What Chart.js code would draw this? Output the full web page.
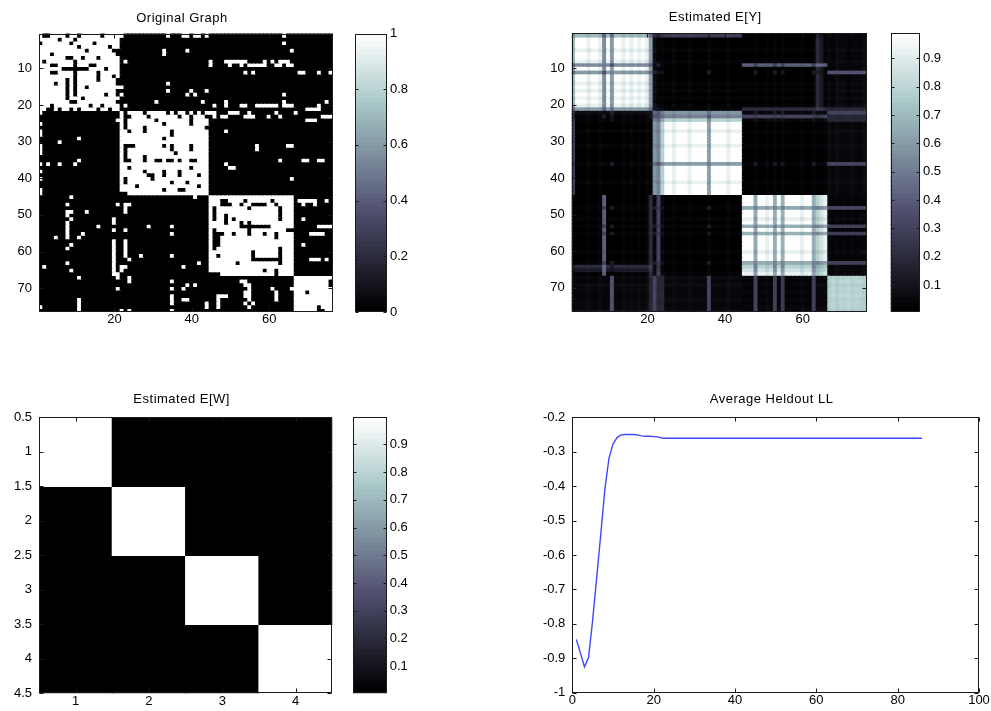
<!DOCTYPE html>
<html>
<head>
<meta charset="utf-8">
<script src="https://cdn.jsdelivr.net/npm/chart.js@4.4.1/dist/chart.umd.min.js"></script>
<style>
  html, body { margin: 0; padding: 0; background: #fff; }
  body { position: relative; width: 991px; height: 711px; overflow: hidden; }
  .panel { position: absolute; }
  .panel canvas { display: block; }
</style>
</head>
<body>
<script>
// ---------------- data ----------------
// node index ticks of the two 76x76 adjacency images
const nodeRowTicks = [10, 20, 30, 40, 50, 60, 70];
const nodeRowLabels = ['10', '20', '30', '40', '50', '60', '70'];
const nodeColTicks = [20, 40, 60];
const nodeColLabels = ['20', '40', '60'];

// observed adjacency matrix, one string per node ('#' = edge).
// groups of columns: nodes 1-21 | 22-44 | 45-66 | 67-76
const adjacencyRows = [
  "#..####.##.#####.#### #...........#...##.##.# ...................#.. ..........",
  "#####.###.########### ....................... ...................... ..........",
  ".#######.#####.###### ....................... ...................#.. ..........",
  "##########.#######.## ....................... ...................... ..........",
  "############.######.. ...........#.....#..... .....................# ..........",
  "###.################. ...........#........... ...................... ..........",
  "#######..##.###.##### ....................... ...................... ..........",
  "#.#######.########### .#..................... #...######....#.#.###. ..........",
  "###..####.###..###### ....................... #....#..#.#####..##.## ..........",
  "######.......####.### ....................... ...................... ..........",
  "###..####.#####.##### ....................... .........#.#.......... .##...#..#",
  "#########.#####.###.# ....................... ...................... ..........",
  "#######.#.#####.####. ....................... ...................... ..........",
  "####.##.#.##########. ............#.......... ...................... ..........",
  "#######.#.##.######## #...................... ...................... ..........",
  "#######.#.##########. ............#.....#...# ...................... ..........",
  "#######.#.#######.##. #................#.#... ...................#.. ..........",
  "#######.###.######### ....................... ...................... ..........",
  "########..##########. .........#...........#. ....#..............#.. ........#.",
  "###.#########.##.#### .#..................... .#..#...##..######.### ......#...",
  "##..#.##.#.####.##.## ....................... ...................... ...####...",
  "#.................... #.####.#####.#.##.#.#.# ##...###..#......#.... #.........",
  "..................... #..####.#######.##.###. .#.##....###...#..#... .......###",
  "....................# #.#######.########.#### ...................... ...###....",
  "#.................... #.#########.######.#### ...................... ..........",
  "..................... #.####.###############. ...................... ..........",
  "#.................... ##.###.######.######### ....#................. ..........",
  "#.................... #############.######### ...................... ..........",
  "..........#.......... ###########.########### ...................... ..........",
  ".....#............... ####################### ...................... ..........",
  "#.................... #...#######.#.####.#### ............#.......## ..........",
  "#.................... #.###########.####.#### ............#......... ..........",
  "#.................... #.############.######## ...................... ..........",
  "..................... #.####.################ ...................... ..........",
  "..........#.......... #..###.##..#..#.##..### ..................#... ..##..##..",
  "#.#..#...#........... ####################### ....#................. ..........",
  "..................... ##.###############.#### .....##............... ..........",
  "#.................... ######.####.###.####### ...................... ..........",
  "..................... #######..##.###.####.## ...................... ..........",
  "#.................... #.######.############## .....................# ..........",
  "..................... #.###########.###.##### ...................... ..........",
  "..................... ####.###############.## ...................... ..........",
  "#.................... ###########.###..###### ...................... ..........",
  "#.................... ..##################### ...................... ..........",
  "........#............ ...................#... ###################### ..........",
  "..................... ....................... ###..####.######.##### .#####..#.",
  ".......#............# .##.................... ###...##.##....##.#### ..#..#....",
  "..................... .#..................... #.########.#######.### ..........",
  ".......##...#........ .#..................... #.################.### ..........",
  ".......#............. ....................... #.##.#############.### ..........",
  "........#..........#. ....................... #.##.#.###########.### ..#.......",
  ".......#...........#. ....................... ####.###.#.########### ..........",
  ".......#.......#..... .......#.....#......... ########........###### ......####",
  ".......#...........#. .#..................... #.########.#########.. ..........",
  ".......#...#......... .............#......... #...##.###.###.##.#### ....####..",
  "....#..#..#.......... ....................... #..##############.#### ..........",
  "...................#. .#..................... #..################### ..........",
  "........#..........#. .#..................... #..################### ..#.......",
  ".......#...........#. .#..................... #.################.### ..........",
  "...................#. .#..................... ###########.######.### ..........",
  "...................#. .#...#.......#......... ##.########.######.### ..........",
  "...................#. ..#.................... ###########........### ....###.#.",
  ".......#...........#. ....................#.. #######.##########.### ..........",
  ".#.................#. ##..............#...... ###################### ..........",
  "........#..........#. #...................... ##############.##.#### ..........",
  "...................## ....................... ...##############.#### ..........",
  "..........#.........# ..#.................... ...................... ##########",
  "..................... ..#..........#......... ........##............ #########.",
  "..................... .................#.#... .........##........... #########.",
  "....................# .............#..#...... ..........#.....#....# ##########",
  "..................... ....................... .........##......#.... ###.######",
  "..................... .............#......... ..###....##......#.... ##########",
  "..........#.......... .............#..##..... ..#.......#......#.... ##########",
  "..........#.......... .............#........# ..#......#.#.......... ##########",
  "#.........#.......... ......................# ..#.......#........... ######.###",
  "..........#.......... #.#..........#......... ...................... ######..##"
];
const adjacencyGroupSizes = [21, 23, 22, 10];

// mixed memberships of the 76 nodes over the 4 communities
const membership = [
  [0.70, 0.28, 0.01, 0.01], [0.995, 0.002, 0.002, 0.001], [0.995, 0.002, 0.002, 0.001], [0.995, 0.002, 0.002, 0.001],
  [0.93, 0.03, 0.02, 0.02], [0.995, 0.002, 0.002, 0.001], [0.995, 0.002, 0.002, 0.001], [0.93, 0.03, 0.02, 0.02],
  [0.56, 0.01, 0.42, 0.01], [0.995, 0.002, 0.002, 0.001], [0.60, 0.01, 0.01, 0.38], [0.995, 0.002, 0.002, 0.001],
  [0.995, 0.002, 0.002, 0.001], [0.93, 0.03, 0.02, 0.02], [0.995, 0.002, 0.002, 0.001], [0.93, 0.03, 0.02, 0.02],
  [0.995, 0.002, 0.002, 0.001], [0.94, 0.02, 0.02, 0.02], [0.995, 0.002, 0.002, 0.001], [0.93, 0.03, 0.02, 0.02],
  [0.62, 0.02, 0.20, 0.16], [0.06, 0.58, 0.04, 0.32], [0.02, 0.52, 0.30, 0.16], [0.02, 0.78, 0.04, 0.16],
  [0.002, 0.995, 0.002, 0.001], [0.002, 0.995, 0.002, 0.001], [0.03, 0.93, 0.02, 0.02], [0.002, 0.995, 0.002, 0.001],
  [0.002, 0.995, 0.002, 0.001], [0.002, 0.995, 0.002, 0.001], [0.03, 0.93, 0.02, 0.02], [0.002, 0.995, 0.002, 0.001],
  [0.002, 0.995, 0.002, 0.001], [0.002, 0.995, 0.002, 0.001], [0.002, 0.995, 0.002, 0.001], [0.03, 0.62, 0.03, 0.32],
  [0.002, 0.995, 0.002, 0.001], [0.002, 0.995, 0.002, 0.001], [0.002, 0.995, 0.002, 0.001], [0.002, 0.995, 0.002, 0.001],
  [0.03, 0.93, 0.02, 0.02], [0.002, 0.995, 0.002, 0.001], [0.002, 0.995, 0.002, 0.001], [0.002, 0.995, 0.002, 0.001],
  [0.002, 0.002, 0.995, 0.001], [0.002, 0.002, 0.995, 0.001], [0.002, 0.002, 0.995, 0.001], [0.02, 0.02, 0.64, 0.32],
  [0.002, 0.002, 0.995, 0.001], [0.002, 0.002, 0.995, 0.001], [0.02, 0.03, 0.93, 0.02], [0.002, 0.002, 0.995, 0.001],
  [0.02, 0.02, 0.66, 0.30], [0.002, 0.002, 0.995, 0.001], [0.02, 0.02, 0.68, 0.28], [0.002, 0.002, 0.995, 0.001],
  [0.002, 0.002, 0.995, 0.001], [0.002, 0.002, 0.995, 0.001], [0.002, 0.002, 0.995, 0.001], [0.02, 0.03, 0.93, 0.02],
  [0.002, 0.002, 0.995, 0.001], [0.002, 0.002, 0.995, 0.001], [0.02, 0.02, 0.66, 0.30], [0.20, 0.01, 0.78, 0.01],
  [0.12, 0.01, 0.86, 0.01], [0.02, 0.03, 0.93, 0.02],
  [0.04, 0.05, 0.04, 0.87], [0.03, 0.04, 0.03, 0.90], [0.05, 0.05, 0.04, 0.86], [0.04, 0.04, 0.03, 0.89],
  [0.04, 0.04, 0.04, 0.88], [0.03, 0.04, 0.03, 0.90], [0.04, 0.05, 0.04, 0.87], [0.04, 0.04, 0.03, 0.89],
  [0.04, 0.04, 0.04, 0.88], [0.05, 0.05, 0.04, 0.86]
];

// estimated block matrix E[W]
const blockW = [
  [0.998, 0.004, 0.002, 0.003],
  [0.003, 0.997, 0.004, 0.002],
  [0.002, 0.003, 0.998, 0.004],
  [0.004, 0.002, 0.003, 0.996]
];
const blockTicks = [1, 2, 3, 4];
const blockTickLabels = ['1', '2', '3', '4'];
const blockRowTicks = [0.5, 1, 1.5, 2, 2.5, 3, 3.5, 4, 4.5];
const blockRowLabels = ['0.5', '1', '1.5', '2', '2.5', '3', '3.5', '4', '4.5'];

// colorbar ticks
const graphBarTicks = [0, 0.2, 0.4, 0.6, 0.8, 1];
const graphBarLabels = ['0', '0.2', '0.4', '0.6', '0.8', '1'];
const estBarTicks = [0.1, 0.2, 0.3, 0.4, 0.5, 0.6, 0.7, 0.8, 0.9];
const estBarLabels = ['0.1', '0.2', '0.3', '0.4', '0.5', '0.6', '0.7', '0.8', '0.9'];

// average held-out log likelihood per iteration
const iterations = [1, 2, 3, 4, 5, 6, 7, 8, 9, 10, 11, 12, 13, 14, 15, 16, 17, 18, 19, 20,
  21, 22, 23, 24, 25, 26, 27, 28, 29, 30, 31, 32, 33, 34, 35, 36, 37, 38, 39, 40,
  41, 42, 43, 44, 45, 46, 47, 48, 49, 50, 51, 52, 53, 54, 55, 56, 57, 58, 59, 60,
  61, 62, 63, 64, 65, 66, 67, 68, 69, 70, 71, 72, 73, 74, 75, 76, 77, 78, 79, 80,
  81, 82, 83, 84, 85, 86];
const heldoutLL = [-0.845, -0.885, -0.925, -0.898, -0.79, -0.665, -0.54, -0.41, -0.32, -0.278,
  -0.259, -0.251, -0.250, -0.250, -0.250, -0.251, -0.254, -0.255, -0.255, -0.256,
  -0.257, -0.260, -0.261, -0.261, -0.261, -0.261, -0.261, -0.261, -0.261, -0.261,
  -0.261, -0.261, -0.261, -0.261, -0.261, -0.261, -0.261, -0.261, -0.261, -0.261,
  -0.261, -0.261, -0.261, -0.261, -0.261, -0.261, -0.261, -0.261, -0.261, -0.261,
  -0.261, -0.261, -0.261, -0.261, -0.261, -0.261, -0.261, -0.261, -0.261, -0.261,
  -0.261, -0.261, -0.261, -0.261, -0.261, -0.261, -0.261, -0.261, -0.261, -0.261,
  -0.261, -0.261, -0.261, -0.261, -0.261, -0.261, -0.261, -0.261, -0.261, -0.261,
  -0.261, -0.261, -0.261, -0.261, -0.261, -0.261];
const llXTicks = [0, 20, 40, 60, 80, 100];
const llXLabels = ['0', '20', '40', '60', '80', '100'];
const llYTicks = [-1, -0.9, -0.8, -0.7, -0.6, -0.5, -0.4, -0.3, -0.2];
const llYLabels = ['-1', '-0.9', '-0.8', '-0.7', '-0.6', '-0.5', '-0.4', '-0.3', '-0.2'];

// ---------------- helpers ----------------
const FONT_FAMILY = '"Liberation Sans", Arial, Helvetica, sans-serif';
const TICK_FONT = { family: FONT_FAMILY, size: 13 };
const TITLE_FONT = '13px ' + FONT_FAMILY;

// 64-level "bone" colormap
const BONE = [];
(function () {
  const m = 64, n = Math.floor(3 / 8 * m);
  for (let i = 0; i < m; i++) {
    const g = i / (m - 1);
    const hr = i < n ? (i + 1) / n : 1;
    const hg = i < n ? 0 : (i < 2 * n ? (i - n + 1) / n : 1);
    const hb = i < 2 * n ? 0 : (i - 2 * n + 1) / (m - 2 * n);
    const r = (7 * g + hb) / 8, gg = (7 * g + hg) / 8, b = (7 * g + hr) / 8;
    BONE.push('rgb(' + Math.round(r * 255) + ',' + Math.round(gg * 255) + ',' + Math.round(b * 255) + ')');
  }
})();
function boneColor(v, cmin, cmax) {
  let k = Math.floor((v - cmin) / (cmax - cmin) * BONE.length);
  if (k < 0) k = 0;
  if (k > BONE.length - 1) k = BONE.length - 1;
  return BONE[k];
}

function parseAdjacency(rows) {
  return rows.map(line => {
    const groups = line.trim().split(/\s+/);
    let s = '';
    adjacencyGroupSizes.forEach((len, gi) => {
      let g = groups[gi] || '';
      if (g.length !== len) console.error('row group length', line, gi, g.length);
      s += g.padEnd(len, '.').slice(0, len);
    });
    return Array.from(s, ch => (ch === '#' ? 1 : 0));
  });
}

// expected adjacency from memberships and block matrix
function expectedAdjacency(pi, W) {
  return pi.map(a => pi.map(b => {
    let s = 0;
    for (let k = 0; k < W.length; k++) for (let l = 0; l < W.length; l++) s += a[k] * W[k][l] * b[l];
    return s;
  }));
}

// box around the plot area with inward tick marks, plus the axes title
const axesBox = {
  id: 'axesBox',
  afterDatasetsDraw(chart, args, opts) {
    const { ctx, chartArea: a } = chart;
    const L = opts.tickLen || 4;
    const l = Math.round(a.left) + 0.5, r = Math.round(a.right) - 0.5;
    const t = Math.round(a.top) + 0.5, b = Math.round(a.bottom) - 0.5;
    ctx.save();
    ctx.strokeStyle = '#1a1a1a';
    ctx.lineWidth = 1;
    ctx.beginPath();
    if (opts.xTicks) {
      const xs = chart.scales.x;
      for (const tk of xs.ticks) {
        const p = Math.round(xs.getPixelForValue(tk.value)) + 0.5;
        ctx.moveTo(p, b); ctx.lineTo(p, b - L);
        ctx.moveTo(p, t); ctx.lineTo(p, t + L);
      }
    }
    if (opts.yTicks) {
      const ys = chart.scales.y;
      for (const tk of ys.ticks) {
        const p = Math.round(ys.getPixelForValue(tk.value)) + 0.5;
        ctx.moveTo(l, p); ctx.lineTo(l + L, p);
        ctx.moveTo(r, p); ctx.lineTo(r - L, p);
      }
    }
    ctx.stroke();
    ctx.strokeRect(l, t, r - l, b - t);
    if (opts.title) {
      ctx.fillStyle = '#000';
      ctx.font = TITLE_FONT;
      if ('letterSpacing' in ctx) ctx.letterSpacing = '0.5px';
      ctx.textAlign = 'center';
      ctx.textBaseline = 'alphabetic';
      ctx.fillText(opts.title, (a.left + a.right) / 2 + (opts.titleDx || 0), a.top - opts.titleGap);
    }
    ctx.restore();
  }
};

function makePanel(x, y, w, h) {
  const d = document.createElement('div');
  d.className = 'panel';
  d.style.left = x + 'px'; d.style.top = y + 'px';
  d.style.width = w + 'px'; d.style.height = h + 'px';
  const c = document.createElement('canvas');
  c.width = w; c.height = h;
  c.style.width = w + 'px'; c.style.height = h + 'px';
  d.appendChild(c);
  document.body.appendChild(d);
  return c;
}

function fixedTicks(values) {
  return scale => { scale.ticks = values.map(v => ({ value: v })); };
}

function axis(extra, values, labels, pad) {
  return Object.assign({
    grid: { display: false, drawTicks: false },
    border: { display: false },
    afterBuildTicks: fixedTicks(values),
    ticks: {
      autoSkip: false, maxRotation: 0, minRotation: 0, padding: pad,
      color: '#000', font: TICK_FONT,
      callback: (v, i) => labels[i]
    }
  }, extra);
}

const baseOptions = {
  responsive: false,
  animation: false,
  devicePixelRatio: 1,
  events: [],
  plugins: { legend: { display: false }, tooltip: { enabled: false }, title: { display: false } }
};

// container box and plot area -> margins
function frame(box, area) {
  return {
    ml: area.l - box.x, mt: area.t - box.y,
    mr: box.x + box.w - area.r, mb: box.y + box.h - area.b
  };
}

function heatmap(box, area, matrix, cmin, cmax, ticks, title, titleGap) {
  const canvas = makePanel(box.x, box.y, box.w, box.h);
  const m = frame(box, area);
  const nRows = matrix.length, nCols = matrix[0].length;
  const datasets = matrix.map((row, r) => ({
    data: row.map((v, c) => ({ x: c + 1, y: [r + 0.5, r + 1.5] })),
    backgroundColor: row.map(v => boneColor(v, cmin, cmax)),
    borderWidth: 0, grouped: false, barPercentage: 1, categoryPercentage: 1, inflateAmount: 0.6
  }));
  return new Chart(canvas, {
    type: 'bar',
    data: { datasets },
    options: Object.assign({}, baseOptions, {
      layout: { padding: { left: 0, top: m.mt, right: m.mr, bottom: 0 } },
      scales: {
        x: axis({ type: 'linear', min: 0.5, max: nCols + 0.5, offset: false,
          afterFit: s => { s.height = m.mb; } }, ticks.x, ticks.xl, 0),
        y: axis({ type: 'linear', reverse: true, min: 0.5, max: nRows + 0.5,
          afterFit: s => { s.width = m.ml; } }, ticks.y, ticks.yl, 7)
      },
      plugins: Object.assign({}, baseOptions.plugins, {
        axesBox: { xTicks: true, yTicks: true, tickLen: 4, title, titleGap, titleDx: -4 }
      })
    }),
    plugins: [axesBox]
  });
}

function colorbar(box, area, cmin, cmax, values, labels) {
  const canvas = makePanel(box.x, box.y, box.w, box.h);
  const m = frame(box, area);
  const step = (cmax - cmin) / BONE.length;
  const datasets = BONE.map((col, i) => ({
    data: [[cmin + i * step, cmin + (i + 1) * step]],
    backgroundColor: col, borderWidth: 0, grouped: false,
    barPercentage: 1, categoryPercentage: 1, inflateAmount: 0.6
  }));
  return new Chart(canvas, {
    type: 'bar',
    data: { labels: [''], datasets },
    options: Object.assign({}, baseOptions, {
      layout: { padding: { left: m.ml, top: m.mt, right: 0, bottom: m.mb } },
      scales: {
        x: { display: false },
        y: axis({ type: 'linear', position: 'right', min: cmin, max: cmax,
          afterFit: s => { s.width = m.mr; } }, values, labels, 3)
      },
      plugins: Object.assign({}, baseOptions.plugins, {
        axesBox: { xTicks: false, yTicks: true, tickLen: 3 }
      })
    }),
    plugins: [axesBox]
  });
}

// ---------------- build ----------------
const adjacency = parseAdjacency(adjacencyRows);
const estY = expectedAdjacency(membership, blockW);
const flatY = estY.flat();
const yMin = Math.min(...flatY), yMax = Math.max(...flatY);
const flatW = blockW.flat();
const wMin = Math.min(...flatW), wMax = Math.max(...flatW);

const nodeTicksCfg = { x: nodeColTicks, xl: nodeColLabels, y: nodeRowTicks, yl: nodeRowLabels };

// Original Graph
heatmap({ x: 0, y: 0, w: 345, h: 345 }, { l: 39, t: 33.5, r: 333, b: 312 },
  adjacency, 0, 1, nodeTicksCfg, 'Original Graph', 12);
colorbar({ x: 345, y: 0, w: 75, h: 345 }, { l: 355, t: 33.5, r: 387, b: 312 },
  0, 1, graphBarTicks, graphBarLabels);

// Estimated E[Y]
heatmap({ x: 520, y: 0, w: 358, h: 345 }, { l: 571.7, t: 33.3, r: 866.7, b: 311.7 },
  estY, yMin, yMax, nodeTicksCfg, 'Estimated E[Y]', 12);
colorbar({ x: 878, y: 0, w: 113, h: 345 }, { l: 890.7, t: 33.3, r: 920, b: 311.7 },
  yMin, yMax, estBarTicks, estBarLabels);

// Estimated E[W]
heatmap({ x: 0, y: 372, w: 345, h: 339 }, { l: 39, t: 417.3, r: 332.3, b: 693.3 },
  blockW, wMin, wMax, { x: blockTicks, xl: blockTickLabels, y: blockRowTicks, yl: blockRowLabels },
  'Estimated E[W]', 14);
colorbar({ x: 345, y: 372, w: 75, h: 339 }, { l: 353.3, t: 417.3, r: 386.7, b: 693.3 },
  wMin, wMax, estBarTicks, estBarLabels);

// Average Heldout LL
(function () {
  const box = { x: 520, y: 372, w: 471, h: 339 };
  const area = { l: 572.3, t: 417.3, r: 979, b: 692.7 };
  const canvas = makePanel(box.x, box.y, box.w, box.h);
  const m = frame(box, area);
  new Chart(canvas, {
    type: 'line',
    data: {
      datasets: [{
        data: iterations.map((x, i) => ({ x, y: heldoutLL[i] })),
        borderColor: 'rgb(64,72,255)', borderWidth: 1.4,
        pointRadius: 0, tension: 0, fill: false
      }]
    },
    options: Object.assign({}, baseOptions, {
      layout: { padding: { left: 0, top: m.mt, right: m.mr, bottom: 0 } },
      scales: {
        x: axis({ type: 'linear', min: 0, max: 100, afterFit: s => { s.height = m.mb; } },
          llXTicks, llXLabels, 0),
        y: axis({ type: 'linear', min: -1, max: -0.2, afterFit: s => { s.width = m.ml; } },
          llYTicks, llYLabels, 7)
      },
      plugins: Object.assign({}, baseOptions.plugins, {
        axesBox: { xTicks: true, yTicks: true, tickLen: 4, title: 'Average Heldout LL', titleGap: 14, titleDx: -4 }
      })
    }),
    plugins: [axesBox]
  });
})();
</script>
</body>
</html>
